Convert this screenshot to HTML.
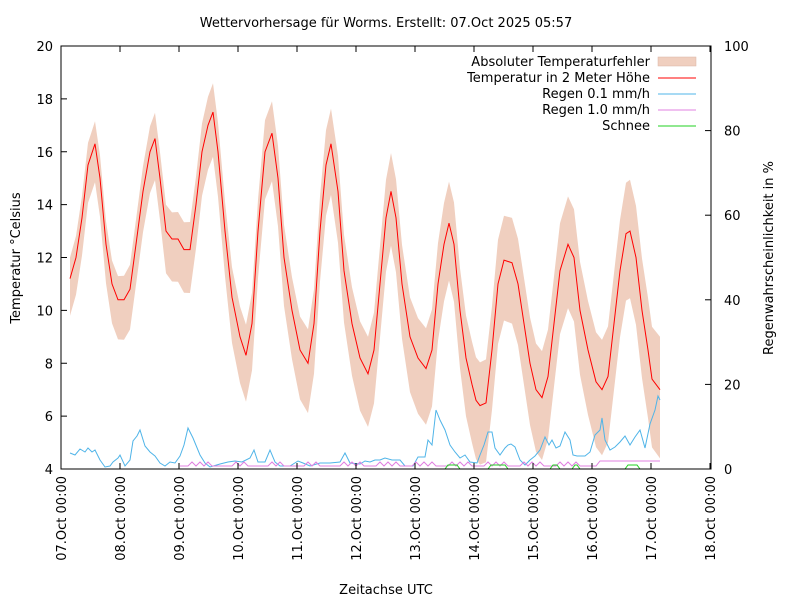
<!DOCTYPE html>
<html><head><meta charset="utf-8"><style>
body{margin:0;background:#fff}
svg text{font-family:"DejaVu Sans",sans-serif;font-size:13px;fill:#000}
</style></head><body>
<svg width="800" height="600" xmlns="http://www.w3.org/2000/svg">
<rect width="800" height="600" fill="#fff"/>
<g id="band"></g>
<g id="lines"></g>
<rect x="61" y="46" width="650" height="423" fill="none" stroke="#000" stroke-width="1"/>
<g id="ticks" stroke="#000"></g>
<g id="labels"></g>
<text x="386" y="27" text-anchor="middle">Wettervorhersage für Worms. Erstellt: 07.Oct 2025 05:57</text>
<text x="386" y="594" text-anchor="middle">Zeitachse UTC</text>
<text transform="translate(20,258) rotate(-90)" text-anchor="middle">Temperatur °Celsius</text>
<text transform="translate(773,258) rotate(-90)" text-anchor="middle">Regenwahrscheinlichkeit in %</text>
<g text-anchor="end">
<text x="650" y="66">Absoluter Temperaturfehler</text>
<text x="650" y="82">Temperatur in 2 Meter Höhe</text>
<text x="650" y="98">Regen 0.1 mm/h</text>
<text x="650" y="114">Regen 1.0 mm/h</text>
<text x="650" y="130">Schnee</text>
</g>
<rect x="658" y="57" width="38" height="9" fill="#f0cfbf" stroke="#d9b5a5" stroke-width="0.5"/>
<line x1="658" y1="78" x2="696" y2="78" stroke="#f00"/>
<line x1="658" y1="94" x2="696" y2="94" stroke="#4fb4e8"/>
<line x1="658" y1="110" x2="696" y2="110" stroke="#e080e0"/>
<line x1="658" y1="126" x2="696" y2="126" stroke="#20d020"/>
</svg>
<script>
const T=[[70,11.2],[76,12],[82,13.5],[88,15.5],[95,16.3],[100,15],[106,12.5],[112,11],[118,10.4],[124,10.4],[130,10.8],[136,12.5],[143,14.5],[150,16],[155,16.5],[160,15],[166,13],[172,12.7],[178,12.7],[184,12.3],[190,12.3],[196,14],[202,16],[208,17],[213,17.5],[218,16],[225,13],[232,10.5],[240,9],[246,8.3],[252,9.5],[258,13],[265,16],[272,16.7],[278,15],[284,12],[292,10],[300,8.5],[308,8],[314,9.5],[320,13],[326,15.5],[331,16.3],[338,14.5],[344,11.5],[352,9.5],[360,8.2],[368,7.6],[374,8.5],[380,11],[386,13.5],[391,14.5],[396,13.5],[402,11],[410,9],[418,8.2],[426,7.8],[432,8.5],[438,11],[444,12.5],[449,13.3],[454,12.5],[460,10],[466,8.2],[472,7.2],[476,6.6],[480,6.4],[486,6.5],[492,8.5],[498,11],[504,11.9],[512,11.8],[518,11],[524,9.5],[530,8],[536,7],[542,6.7],[548,7.5],[554,9.5],[560,11.5],[568,12.5],[574,12],[580,10],[588,8.5],[596,7.3],[602,7],[608,7.5],[614,9.5],[620,11.5],[626,12.9],[630,13],[636,12],[642,10],[648,8.5],[652,7.4],[660,7]];
const Y=t=>469-(t-4)*26.4375;
const f=x=>(x-70)/590;
const eu=x=>0.8+1.2*f(x), el_=x=>1.4+1.2*f(x);
const NS="http://www.w3.org/2000/svg";
function el(p,tag,a){const n=document.createElementNS(NS,tag);for(const k in a)n.setAttribute(k,a[k]);document.getElementById(p).appendChild(n);return n;}
let up=T.map(([x,t])=>x+","+Y(t+eu(x)).toFixed(1));
let lo=T.slice().reverse().map(([x,t])=>x+","+Math.min(469,Y(t-el_(x))).toFixed(1));
el("band","polygon",{points:up.concat(lo).join(" "),fill:"#f0cfbf"});
const blue=[[70,453],[75,455],[80,449],[85,452],[88,448],[92,452],[95,450],[100,460],[105,467],[110,466],[113,462],[118,458],[120,455],[125,466],[130,460],[133,441],[137,436],[140,430],[145,446],[150,452],[155,456],[160,463],[165,466],[170,462],[175,463],[180,456],[184,445],[188,428],[193,438],[200,455],[205,463],[210,467],[220,464],[228,462],[235,461],[242,462],[250,458],[254,450],[258,462],[265,462],[270,450],[275,462],[280,466],[290,466],[298,461],[303,463],[310,466],[320,463],[330,463],[340,462],[345,453],[350,463],[360,464],[365,461],[370,462],[375,460],[380,460],[385,458],[392,460],[400,460],[405,466],[413,466],[418,457],[425,457],[428,440],[432,445],[436,410],[440,420],[445,430],[450,445],[455,452],[460,458],[465,455],[470,462],[477,463],[480,455],[484,445],[488,432],[492,432],[495,448],[500,455],[505,448],[508,445],[511,444],[515,447],[520,460],[525,465],[530,460],[535,456],[540,450],[545,437],[549,445],[552,440],[556,448],[560,446],[565,432],[570,440],[573,455],[577,456],[585,456],[590,452],[595,435],[600,430],[602,418],[605,440],[610,450],[615,447],[620,442],[625,436],[630,445],[635,437],[640,430],[645,448],[650,424],[655,410],[658,396],[660,400]];
el("lines","polyline",{points:blue.map(p=>p.join(",")).join(" "),fill:"none",stroke:"#4fb4e8","stroke-width":1});
let pink=[];for(let x=180;x<=660;x+=4){let b=(x>=598)?461:(Math.sin(x*0.7)>0.6?462:466);pink.push([x,b]);}
el("lines","polyline",{points:pink.map(p=>p.join(",")).join(" "),fill:"none",stroke:"#e080e0","stroke-width":1});
[[445,460],[488,508],[550,560],[572,580],[625,640]].forEach(([a,b])=>el("lines","polyline",{points:`${a},469 ${a+3},465 ${b-3},465 ${b},469`,fill:"none",stroke:"#20d020","stroke-width":1}));
el("lines","polyline",{points:T.map(([x,t])=>x+","+Y(t).toFixed(1)).join(" "),fill:"none",stroke:"#f00","stroke-width":1});
for(let v=4;v<=20;v+=2){let y=Y(v);el("ticks","line",{x1:61,y1:y,x2:67,y2:y});let t=el("labels","text",{x:53,y:y+5,"text-anchor":"end"});t.textContent=v;}
for(let p=0;p<=100;p+=20){let y=469-p*4.23;el("ticks","line",{x1:705,y1:y,x2:711,y2:y});let t=el("labels","text",{x:724,y:y+5});t.textContent=p;}
for(let d=0;d<=11;d++){let x=61+d*59;el("ticks","line",{x1:x,y1:469,x2:x,y2:463});el("ticks","line",{x1:x,y1:46,x2:x,y2:52});let t=el("labels","text",{transform:`translate(${x+5},476) rotate(-90)`,"text-anchor":"end"});t.textContent=String(7+d).padStart(2,"0")+".Oct 00:00";}
</script>
</body></html>
